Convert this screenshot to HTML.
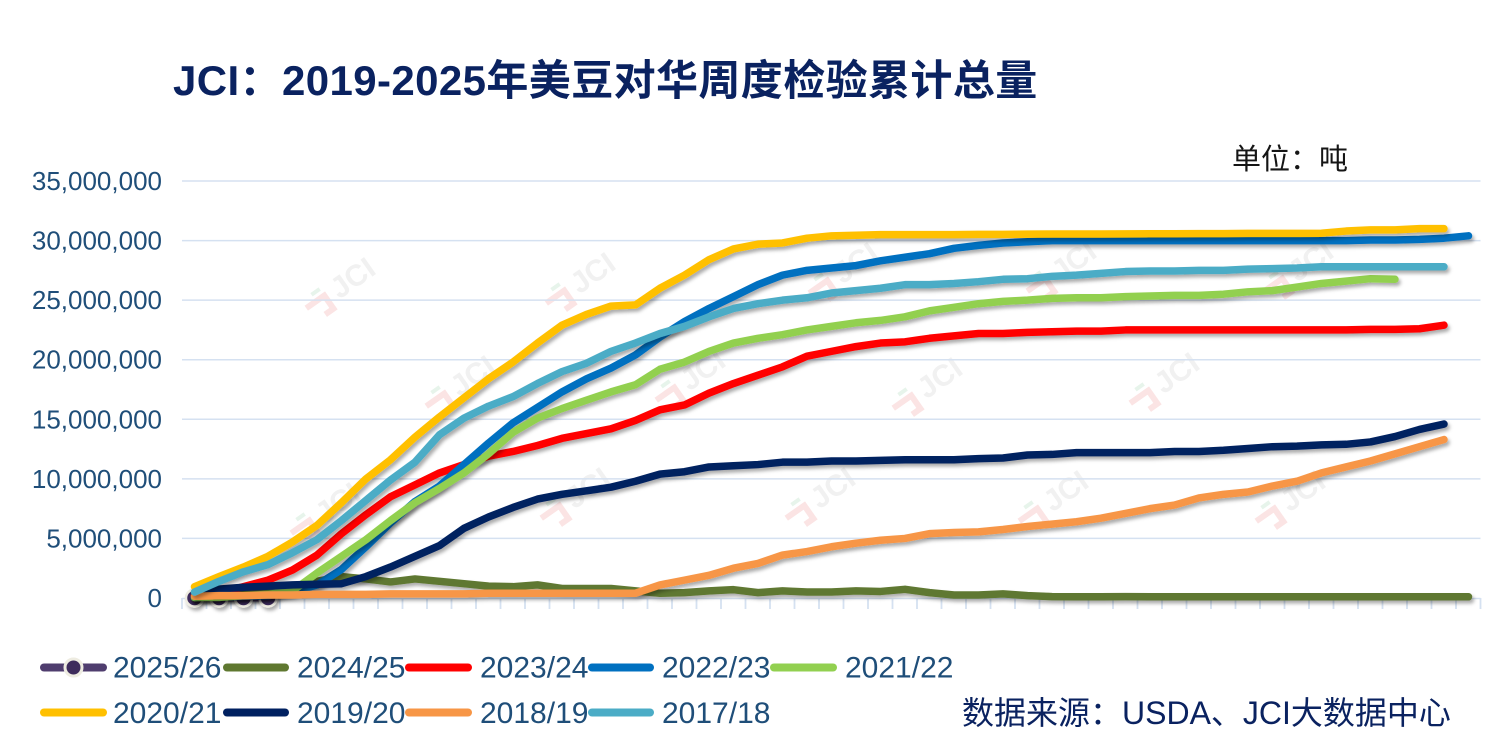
<!DOCTYPE html>
<html>
<head>
<meta charset="utf-8">
<style>
  html, body { margin:0; padding:0; background:#ffffff; }
  body { width:1496px; height:749px; overflow:hidden; }
  svg { display:block; }
  .lbl { font-family:"Liberation Sans","Noto Sans CJK SC",sans-serif; }
</style>
</head>
<body>
<svg width="1496" height="749" viewBox="0 0 1496 749" xmlns="http://www.w3.org/2000/svg">
  <defs>
    <filter id="sh" filterUnits="userSpaceOnUse" x="0" y="0" width="1496" height="749">
      <feDropShadow dx="2" dy="3" stdDeviation="1.8" flood-color="#000" flood-opacity="0.33"/>
    </filter>
  </defs>
  <rect x="0" y="0" width="1496" height="749" fill="#ffffff"/>

  <!-- Title -->
  <text x="173" y="95" class="lbl" font-size="42" font-weight="700" fill="#0a2260" letter-spacing="0.4">JCI：2019-2025年美豆对华周度检验累计总量</text>
  <!-- Unit -->
  <text x="1232" y="169" class="lbl" font-size="29" fill="#151515">单位：吨</text>

  <!-- Watermarks -->
  <g opacity="0.5">
    <g transform="translate(350,280) rotate(-35)"><path d="M-52,-2 h22 v16 h-10" stroke="#f7c8c8" stroke-width="6" fill="none"/><path d="M-40,-10 h10" stroke="#cfe8d6" stroke-width="4"/><text x="-20" y="10" class="lbl" font-size="30" font-weight="700" fill="#e2e2e2">JCI</text></g>
    <g transform="translate(590,275) rotate(-35)"><path d="M-52,-2 h22 v16 h-10" stroke="#f7c8c8" stroke-width="6" fill="none"/><path d="M-40,-10 h10" stroke="#cfe8d6" stroke-width="4"/><text x="-20" y="10" class="lbl" font-size="30" font-weight="700" fill="#e2e2e2">JCI</text></g>
    <g transform="translate(853,265) rotate(-35)"><path d="M-52,-2 h22 v16 h-10" stroke="#f7c8c8" stroke-width="6" fill="none"/><path d="M-40,-10 h10" stroke="#cfe8d6" stroke-width="4"/><text x="-20" y="10" class="lbl" font-size="30" font-weight="700" fill="#e2e2e2">JCI</text></g>
    <g transform="translate(1071,263) rotate(-35)"><path d="M-52,-2 h22 v16 h-10" stroke="#f7c8c8" stroke-width="6" fill="none"/><path d="M-40,-10 h10" stroke="#cfe8d6" stroke-width="4"/><text x="-20" y="10" class="lbl" font-size="30" font-weight="700" fill="#e2e2e2">JCI</text></g>
    <g transform="translate(1308,263) rotate(-35)"><path d="M-52,-2 h22 v16 h-10" stroke="#f7c8c8" stroke-width="6" fill="none"/><path d="M-40,-10 h10" stroke="#cfe8d6" stroke-width="4"/><text x="-20" y="10" class="lbl" font-size="30" font-weight="700" fill="#e2e2e2">JCI</text></g>
    <g transform="translate(470,378) rotate(-35)"><path d="M-52,-2 h22 v16 h-10" stroke="#f7c8c8" stroke-width="6" fill="none"/><path d="M-40,-10 h10" stroke="#cfe8d6" stroke-width="4"/><text x="-20" y="10" class="lbl" font-size="30" font-weight="700" fill="#e2e2e2">JCI</text></g>
    <g transform="translate(700,372) rotate(-35)"><path d="M-52,-2 h22 v16 h-10" stroke="#f7c8c8" stroke-width="6" fill="none"/><path d="M-40,-10 h10" stroke="#cfe8d6" stroke-width="4"/><text x="-20" y="10" class="lbl" font-size="30" font-weight="700" fill="#e2e2e2">JCI</text></g>
    <g transform="translate(937,380) rotate(-35)"><path d="M-52,-2 h22 v16 h-10" stroke="#f7c8c8" stroke-width="6" fill="none"/><path d="M-40,-10 h10" stroke="#cfe8d6" stroke-width="4"/><text x="-20" y="10" class="lbl" font-size="30" font-weight="700" fill="#e2e2e2">JCI</text></g>
    <g transform="translate(1174,375) rotate(-35)"><path d="M-52,-2 h22 v16 h-10" stroke="#f7c8c8" stroke-width="6" fill="none"/><path d="M-40,-10 h10" stroke="#cfe8d6" stroke-width="4"/><text x="-20" y="10" class="lbl" font-size="30" font-weight="700" fill="#e2e2e2">JCI</text></g>
    <g transform="translate(335,505) rotate(-35)"><path d="M-52,-2 h22 v16 h-10" stroke="#f7c8c8" stroke-width="6" fill="none"/><path d="M-40,-10 h10" stroke="#cfe8d6" stroke-width="4"/><text x="-20" y="10" class="lbl" font-size="30" font-weight="700" fill="#e2e2e2">JCI</text></g>
    <g transform="translate(585,490) rotate(-35)"><path d="M-52,-2 h22 v16 h-10" stroke="#f7c8c8" stroke-width="6" fill="none"/><path d="M-40,-10 h10" stroke="#cfe8d6" stroke-width="4"/><text x="-20" y="10" class="lbl" font-size="30" font-weight="700" fill="#e2e2e2">JCI</text></g>
    <g transform="translate(830,490) rotate(-35)"><path d="M-52,-2 h22 v16 h-10" stroke="#f7c8c8" stroke-width="6" fill="none"/><path d="M-40,-10 h10" stroke="#cfe8d6" stroke-width="4"/><text x="-20" y="10" class="lbl" font-size="30" font-weight="700" fill="#e2e2e2">JCI</text></g>
    <g transform="translate(1063,493) rotate(-35)"><path d="M-52,-2 h22 v16 h-10" stroke="#f7c8c8" stroke-width="6" fill="none"/><path d="M-40,-10 h10" stroke="#cfe8d6" stroke-width="4"/><text x="-20" y="10" class="lbl" font-size="30" font-weight="700" fill="#e2e2e2">JCI</text></g>
    <g transform="translate(1300,493) rotate(-35)"><path d="M-52,-2 h22 v16 h-10" stroke="#f7c8c8" stroke-width="6" fill="none"/><path d="M-40,-10 h10" stroke="#cfe8d6" stroke-width="4"/><text x="-20" y="10" class="lbl" font-size="30" font-weight="700" fill="#e2e2e2">JCI</text></g>
  </g>

  <!-- Gridlines -->
  <g stroke="#d5e1f1" stroke-width="1.5">
    <line x1="182" y1="181" x2="1480.5" y2="181"/>
    <line x1="182" y1="240.6" x2="1480.5" y2="240.6"/>
    <line x1="182" y1="300.1" x2="1480.5" y2="300.1"/>
    <line x1="182" y1="359.7" x2="1480.5" y2="359.7"/>
    <line x1="182" y1="419.3" x2="1480.5" y2="419.3"/>
    <line x1="182" y1="478.9" x2="1480.5" y2="478.9"/>
    <line x1="182" y1="538.4" x2="1480.5" y2="538.4"/>
    <line x1="182" y1="598.5" x2="1480.5" y2="598.5"/>
  </g>
  <!-- Ticks -->
  <g stroke="#d5e1f1" stroke-width="1.8">
    <path d="M182,598 v11 M206.5,598 v11 M231,598 v11 M255.5,598 v11 M280,598 v11 M304.5,598 v11 M329,598 v11 M353.5,598 v11 M378,598 v11 M402.5,598 v11 M427,598 v11 M451.5,598 v11 M476,598 v11 M500.5,598 v11 M525,598 v11 M549.5,598 v11 M574,598 v11 M598.5,598 v11 M623,598 v11 M647.5,598 v11 M672,598 v11 M696.5,598 v11 M721,598 v11 M745.5,598 v11 M770,598 v11 M794.5,598 v11 M819,598 v11 M843.5,598 v11 M868,598 v11 M892.5,598 v11 M917,598 v11 M941.5,598 v11 M966,598 v11 M990.5,598 v11 M1015,598 v11 M1039.5,598 v11 M1064,598 v11 M1088.5,598 v11 M1113,598 v11 M1137.5,598 v11 M1162,598 v11 M1186.5,598 v11 M1211,598 v11 M1235.5,598 v11 M1260,598 v11 M1284.5,598 v11 M1309,598 v11 M1333.5,598 v11 M1358,598 v11 M1382.5,598 v11 M1407,598 v11 M1431.5,598 v11 M1456,598 v11 M1480.5,598 v11"/>
  </g>

  <!-- Y labels -->
  <g class="lbl" font-size="26" fill="#1f4e79" text-anchor="end">
    <text x="162" y="190">35,000,000</text>
    <text x="162" y="249.6">30,000,000</text>
    <text x="162" y="309.1">25,000,000</text>
    <text x="162" y="368.7">20,000,000</text>
    <text x="162" y="428.3">15,000,000</text>
    <text x="162" y="487.9">10,000,000</text>
    <text x="162" y="547.4">5,000,000</text>
    <text x="162" y="607">0</text>
  </g>

  <!-- Series -->
  <g fill="none" stroke-width="7.5" stroke-linejoin="round" stroke-linecap="round">
    <!-- 2025/26 -->
    <g filter="url(#sh)">
      <line x1="194.5" y1="598" x2="268" y2="598" stroke="#4f3d6e" stroke-width="7"/>
      <g fill="#3e2c5c" stroke="#eeece1" stroke-width="2.5">
        <circle cx="194.5" cy="598" r="8.5"/>
        <circle cx="219" cy="598" r="8.5"/>
        <circle cx="243.5" cy="598" r="8.5"/>
        <circle cx="268" cy="598" r="8.5"/>
      </g>
    </g>
    <!-- 2024/25 -->
    <g filter="url(#sh)">
      <polyline stroke="#5f7830" vector-effect="non-scaling-stroke" transform="translate(194.5 598) scale(24.5 -11.914)"
        points="0,0 1,0.2 2,0.35 3,0.5 4,0.95 5,1.4 6,1.8 7,1.6 8,1.35 9,1.6 10,1.4 11,1.2 12,1.0 13,0.95 14,1.1 15,0.8 16,0.8 17,0.8 18,0.6 19,0.4 20,0.45 21,0.6 22,0.7 23,0.45 24,0.6 25,0.5 26,0.5 27,0.6 28,0.55 29,0.73 30,0.45 31,0.25 32,0.25 33,0.35 34,0.2 35,0.12 36,0.1 37,0.1 38,0.12 39,0.1 40,0.1 41,0.1 42,0.1 43,0.1 44,0.1 45,0.1 46,0.1 47,0.1 48,0.1 49,0.1 50,0.1 51,0.1 52,0.1"/>
    </g>
    <!-- 2023/24 -->
    <g filter="url(#sh)">
      <polyline stroke="#ff0000" vector-effect="non-scaling-stroke" transform="translate(194.5 598) scale(24.5 -11.914)"
        points="0,0.2 1,0.4 2,0.95 3,1.5 4,2.35 5,3.6 6,5.4 7,7.0 8,8.5 9,9.5 10,10.5 11,11.2 12,11.9 13,12.3 14,12.8 15,13.4 16,13.8 17,14.2 18,14.9 19,15.8 20,16.2 21,17.2 22,18.0 23,18.7 24,19.4 25,20.3 26,20.7 27,21.1 28,21.4 29,21.5 30,21.8 31,22.0 32,22.2 33,22.2 34,22.3 35,22.35 36,22.4 37,22.4 38,22.5 39,22.5 40,22.5 41,22.5 42,22.5 43,22.5 44,22.5 45,22.5 46,22.5 47,22.5 48,22.55 49,22.55 50,22.6 51,22.9"/>
    </g>
    <!-- 2022/23 -->
    <g filter="url(#sh)">
      <polyline stroke="#0070c0" vector-effect="non-scaling-stroke" transform="translate(194.5 598) scale(24.5 -11.914)"
        points="0,0.05 1,0.1 2,0.15 3,0.2 4,0.5 5,1.1 6,2.4 7,4.3 8,6.3 9,8.1 10,9.4 11,11.2 12,13.0 13,14.7 14,16.0 15,17.3 16,18.4 17,19.3 18,20.4 19,21.9 20,23.2 21,24.3 22,25.3 23,26.3 24,27.1 25,27.5 26,27.7 27,27.9 28,28.3 29,28.6 30,28.9 31,29.35 32,29.6 33,29.8 34,29.9 35,30.0 36,30.0 37,30.0 38,30.0 39,30.0 40,30.0 41,30.0 42,30.0 43,30.0 44,30.0 45,30.0 46,30.0 47,30.0 48,30.05 49,30.05 50,30.1 51,30.2 52,30.4"/>
    </g>
    <!-- 2021/22 -->
    <g filter="url(#sh)">
      <polyline stroke="#92d050" vector-effect="non-scaling-stroke" transform="translate(194.5 598) scale(24.5 -11.914)"
        points="0,0.05 1,0.05 2,0.2 3,0.3 4,0.6 5,2.1 6,3.5 7,4.9 8,6.5 9,8.0 10,9.2 11,10.5 12,12.1 13,13.9 14,15.1 15,15.9 16,16.6 17,17.3 18,17.9 19,19.2 20,19.8 21,20.7 22,21.4 23,21.8 24,22.1 25,22.5 26,22.8 27,23.1 28,23.3 29,23.6 30,24.1 31,24.4 32,24.7 33,24.9 34,25.0 35,25.15 36,25.2 37,25.2 38,25.3 39,25.35 40,25.4 41,25.4 42,25.5 43,25.7 44,25.8 45,26.1 46,26.4 47,26.6 48,26.8 49,26.75"/>
    </g>
    <!-- 2020/21 -->
    <g filter="url(#sh)">
      <polyline stroke="#ffc000" vector-effect="non-scaling-stroke" transform="translate(194.5 598) scale(24.5 -11.914)"
        points="0,0.95 1,1.8 2,2.6 3,3.5 4,4.7 5,6.1 6,8.0 7,10.0 8,11.6 9,13.5 10,15.2 11,16.8 12,18.4 13,19.8 14,21.4 15,22.9 16,23.8 17,24.5 18,24.6 19,26.0 20,27.1 21,28.4 22,29.3 23,29.7 24,29.8 25,30.2 26,30.4 27,30.45 28,30.5 29,30.5 30,30.5 31,30.5 32,30.52 33,30.52 34,30.54 35,30.55 36,30.55 37,30.55 38,30.56 39,30.57 40,30.57 41,30.58 42,30.58 43,30.6 44,30.6 45,30.6 46,30.62 47,30.8 48,30.9 49,30.9 50,31.0 51,31.0"/>
    </g>
    <!-- 2019/20 -->
    <g filter="url(#sh)">
      <polyline stroke="#002060" vector-effect="non-scaling-stroke" transform="translate(194.5 598) scale(24.5 -11.914)"
        points="0,0.4 1,0.75 2,0.9 3,1.0 4,1.1 5,1.15 6,1.2 7,1.8 8,2.6 9,3.5 10,4.4 11,5.85 12,6.8 13,7.6 14,8.3 15,8.7 16,9.0 17,9.3 18,9.8 19,10.4 20,10.6 21,11.0 22,11.1 23,11.2 24,11.4 25,11.4 26,11.5 27,11.5 28,11.55 29,11.6 30,11.6 31,11.6 32,11.7 33,11.75 34,12.0 35,12.05 36,12.2 37,12.2 38,12.2 39,12.2 40,12.3 41,12.3 42,12.4 43,12.55 44,12.7 45,12.75 46,12.85 47,12.9 48,13.1 49,13.55 50,14.15 51,14.6"/>
    </g>
    <!-- 2018/19 -->
    <g filter="url(#sh)">
      <polyline stroke="#f79646" vector-effect="non-scaling-stroke" transform="translate(194.5 598) scale(24.5 -11.914)"
        points="0,0.15 1,0.2 2,0.2 3,0.25 4,0.25 5,0.3 6,0.3 7,0.3 8,0.35 9,0.35 10,0.35 11,0.35 12,0.4 13,0.4 14,0.4 15,0.4 16,0.4 17,0.4 18,0.4 19,1.1 20,1.5 21,1.9 22,2.5 23,2.9 24,3.6 25,3.9 26,4.3 27,4.6 28,4.85 29,5.0 30,5.4 31,5.5 32,5.55 33,5.75 34,6.0 35,6.2 36,6.4 37,6.7 38,7.1 39,7.5 40,7.8 41,8.4 42,8.7 43,8.9 44,9.4 45,9.8 46,10.5 47,11.0 48,11.5 49,12.1 50,12.7 51,13.3"/>
    </g>
    <!-- 2017/18 -->
    <g filter="url(#sh)">
      <polyline stroke="#4bacc6" vector-effect="non-scaling-stroke" transform="translate(194.5 598) scale(24.5 -11.914)"
        points="0,0.5 1,1.4 2,2.2 3,2.8 4,3.8 5,4.9 6,6.5 7,8.2 8,9.9 9,11.4 10,13.7 11,15.1 12,16.1 13,16.9 14,18.0 15,19.0 16,19.7 17,20.7 18,21.4 19,22.2 20,22.8 21,23.6 22,24.3 23,24.7 24,25.0 25,25.2 26,25.6 27,25.8 28,26.0 29,26.3 30,26.3 31,26.4 32,26.55 33,26.75 34,26.8 35,27.0 36,27.1 37,27.25 38,27.4 39,27.45 40,27.45 41,27.5 42,27.5 43,27.6 44,27.65 45,27.7 46,27.8 47,27.8 48,27.8 49,27.8 50,27.8 51,27.8"/>
    </g>
  </g>

  <!-- Legend -->
  <g stroke-width="8" stroke-linecap="round">
    <line x1="44" y1="667.5" x2="103" y2="667.5" stroke="#4f3d6e"/>
    <circle cx="73.5" cy="667.5" r="8.5" fill="#3e2c5c" stroke="#eeece1" stroke-width="3"/>
    <line x1="227" y1="667.5" x2="285" y2="667.5" stroke="#5f7830"/>
    <line x1="409" y1="667.5" x2="468" y2="667.5" stroke="#ff0000"/>
    <line x1="592" y1="667.5" x2="650" y2="667.5" stroke="#0070c0"/>
    <line x1="774" y1="667.5" x2="833" y2="667.5" stroke="#92d050"/>
    <line x1="44" y1="712.5" x2="103" y2="712.5" stroke="#ffc000"/>
    <line x1="227" y1="712.5" x2="285" y2="712.5" stroke="#002060"/>
    <line x1="409" y1="712.5" x2="468" y2="712.5" stroke="#f79646"/>
    <line x1="592" y1="712.5" x2="650" y2="712.5" stroke="#4bacc6"/>
  </g>
  <g class="lbl" font-size="30" fill="#1f4e79">
    <text x="113" y="677.5">2025/26</text>
    <text x="297" y="677.5">2024/25</text>
    <text x="480" y="677.5">2023/24</text>
    <text x="662" y="677.5">2022/23</text>
    <text x="845" y="677.5">2021/22</text>
    <text x="113" y="723">2020/21</text>
    <text x="297" y="723">2019/20</text>
    <text x="480" y="723">2018/19</text>
    <text x="662" y="723">2017/18</text>
  </g>

  <!-- Source -->
  <text x="962" y="724" class="lbl" font-size="32" fill="#0a2260">数据来源：USDA、JCI大数据中心</text>
</svg>
</body>
</html>
